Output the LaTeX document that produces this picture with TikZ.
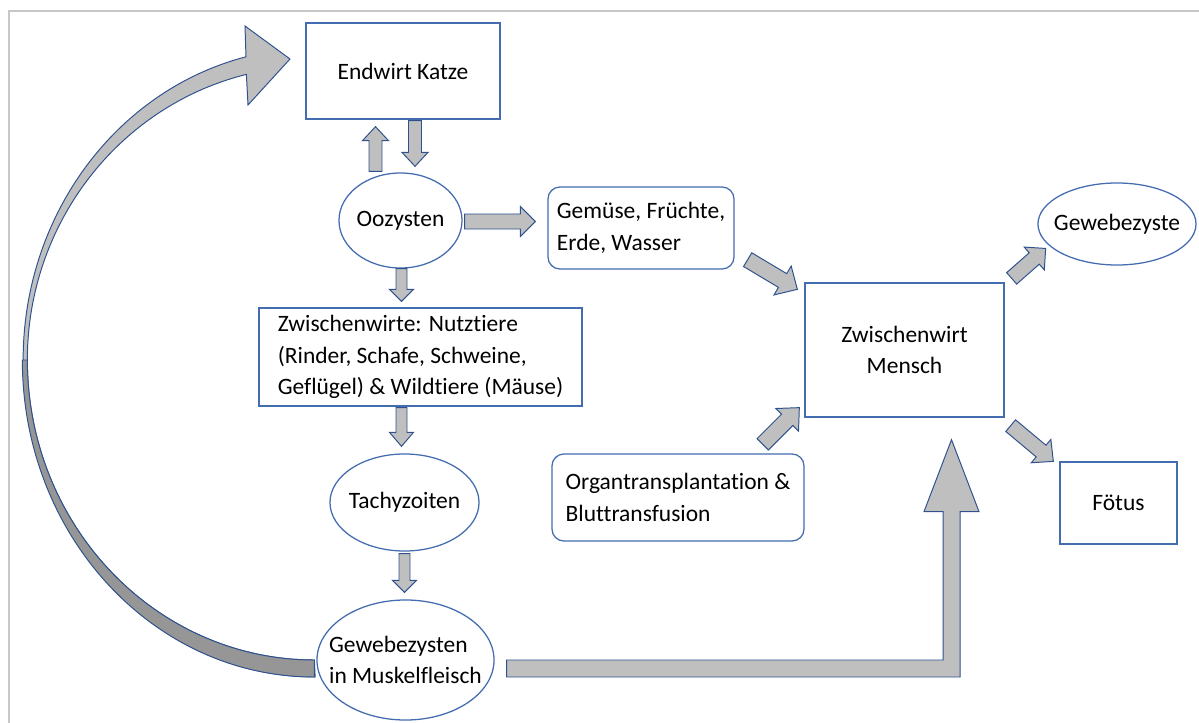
\documentclass[tikz,border=0pt]{standalone}
\usepackage{fontspec}
\setmainfont{Carlito}[Ligatures=NoCommon]
\usepackage{tikz}
\usetikzlibrary{shapes.geometric, calc}
\definecolor{boxblue}{RGB}{68,108,176}
\definecolor{arrowblue}{RGB}{47,82,143}
\definecolor{arrowfill}{RGB}{191,191,191}
\definecolor{arrowdark}{RGB}{150,150,150}
\definecolor{framegray}{RGB}{200,200,200}
\tikzset{
  stage/.style={draw=boxblue, line width=0.9pt, fill=white, inner sep=0pt},
  hostbox/.style={stage, rectangle, align=center},
  sourcebox/.style={stage, rectangle, rounded corners=0.3cm, align=left},
  cyst/.style={stage, ellipse, inner xsep=-0.4cm, align=left},
  fatarrow/.style={draw=arrowblue, line width=0.7pt, fill=arrowfill, line join=miter},
}
% tail, tip, half shaft, half head, head length
\newcommand{\blockarrow}[5]{%
  \coordinate (ba-tail) at (#1);
  \coordinate (ba-tip) at (#2);
  \coordinate (ba-base) at ($(ba-tip)!#5!(ba-tail)$);
  \draw[fatarrow] ($(ba-tail)!#3!90:(ba-tip)$) -- ($(ba-base)!#3!90:(ba-tip)$)
    -- ($(ba-base)!#4!90:(ba-tip)$) -- (ba-tip) -- ($(ba-base)!#4!-90:(ba-tip)$)
    -- ($(ba-base)!#3!-90:(ba-tip)$) -- ($(ba-tail)!#3!-90:(ba-tip)$) -- cycle;
}

\begin{document}
\begin{tikzpicture}[x=0.025cm, y=-0.025cm, font=\fontsize{16.7}{22.4}\selectfont]
  \useasboundingbox (0,0) rectangle (1199,723);
  \draw[framegray, line width=1.5pt] (9,723) -- (9,11) -- (1199,11);

  % cat cycle
  \node[hostbox, minimum width=4.85cm, minimum height=2.4cm] (katze) at (403,71) {Endwirt Katze};
  \node[cyst, minimum width=3.075cm, minimum height=2.375cm] (oozysten) at (400.5,220.5) {Oozysten};
  \node[sourcebox, minimum width=4.65cm, minimum height=2.05cm] (gemuese) at (641,228)
    {Gemüse, Früchte,\\Erde, Wasser};
  \node[stage, align=left, minimum width=8.075cm, minimum height=2.45cm] (zwischen) at (420.5,357)
    {Zwischenwirte: Nutztiere\\(Rinder, Schafe, Schweine,\\Geflügel) \& Wildtiere (Mäuse)};
  \node[cyst, minimum width=3.725cm, minimum height=2.425cm] (tachy) at (404.5,502.5) {Tachyzoiten};
  \node[cyst, minimum width=4.425cm, minimum height=3cm] (gewebe) at (405.5,660)
    {Gewebezysten\\in Muskelfleisch};

  % human
  \node[hostbox, minimum width=4.975cm, minimum height=3.35cm] (mensch) at (904.5,350)
    {Zwischenwirt\\Mensch};
  \node[cyst, minimum width=3.95cm, minimum height=2.05cm] (gzyste) at (1117,224) {Gewebezyste};
  \node[hostbox, minimum width=2.925cm, minimum height=2.05cm] (foetus) at (1118.5,503) {Fötus};
  \node[sourcebox, minimum width=6.3cm, minimum height=2.175cm] (organ) at (678,497.5)
    {Organtransplantation \&\\Bluttransfusion};

  % short block arrows
  \blockarrow{$(oozysten.north)+(-25,-1)$}{$(katze.south)+(-27.5,7)$}{0.1625cm}{0.325cm}{0.35cm}
  \blockarrow{$(katze.south)+(12,1)$}{$(oozysten.north)+(14.5,-6)$}{0.1625cm}{0.325cm}{0.35cm}
  \blockarrow{$(oozysten.east)+(2,1)$}{$(gemuese.west)+(-12,-6.5)$}{0.1875cm}{0.375cm}{0.375cm}
  \blockarrow{$(oozysten.south)+(1,0)$}{$(zwischen.north)+(-19,-6)$}{0.1375cm}{0.3cm}{0.3cm}
  \blockarrow{$(zwischen.south)+(-19,1)$}{$(tachy.north)+(-3,-7)$}{0.1375cm}{0.3cm}{0.35cm}
  \blockarrow{$(tachy.south)+(0,2)$}{$(gewebe.north)+(-1,-7)$}{0.1375cm}{0.3cm}{0.3cm}
  \blockarrow{$(gemuese.south east)+(13,-10)$}{$(mensch.north west)+(-7,7)$}{0.2cm}{0.42cm}{0.43cm}
  \blockarrow{$(organ.north east)+(-42,-9)$}{$(mensch.south west)+(-5,-10)$}{0.2cm}{0.4cm}{0.43cm}
  \blockarrow{$(mensch.north east)+(7,-4)$}{$(gzyste.south west)+(-15,-5)$}{0.19cm}{0.38cm}{0.38cm}
  \blockarrow{$(mensch.south east)+(6,8)$}{$(foetus.north west)+(-6,0)$}{0.19cm}{0.38cm}{0.4cm}

  % meat to human
  \coordinate (lstart) at ($(gewebe.east)+(12,0)$);
  \coordinate (ltip) at ($(mensch.south)+(47,22)$);
  \draw[fatarrow] (lstart) -- ($(lstart -| ltip)+(-8.5,0)$) -- ($(ltip)+(-8.5,72)$)
    -- ($(ltip)+(-27.5,72)$) -- (ltip) -- ($(ltip)+(27.5,72)$) -- ($(ltip)+(8.5,72)$)
    -- ($(lstart -| ltip)+(8.5,17)$) -- ($(lstart)+(0,17)$) -- cycle;

  % meat back to the cat
  \coordinate (cstart) at ($(gewebe.west)+(-2,0)$);
  \draw[fatarrow] (cstart) arc[start angle=90, end angle=180, x radius=287, y radius=300]
    arc[start angle=180, end angle=256.3, x radius=287, y radius=294]
    -- (248,105) -- (290,59) -- (245,26) -- (246,56.8)
    arc[start angle=256.3, end angle=180, x radius=292, y radius=312]
    arc[start angle=180, end angle=90, x radius=292, y radius=317] -- cycle;
  \draw[arrowblue, line width=0.7pt, fill=arrowdark] (cstart)
    arc[start angle=90, end angle=180, x radius=287, y radius=300] -- +(-5,0)
    arc[start angle=180, end angle=90, x radius=292, y radius=317] -- cycle;
\end{tikzpicture}
\end{document}
